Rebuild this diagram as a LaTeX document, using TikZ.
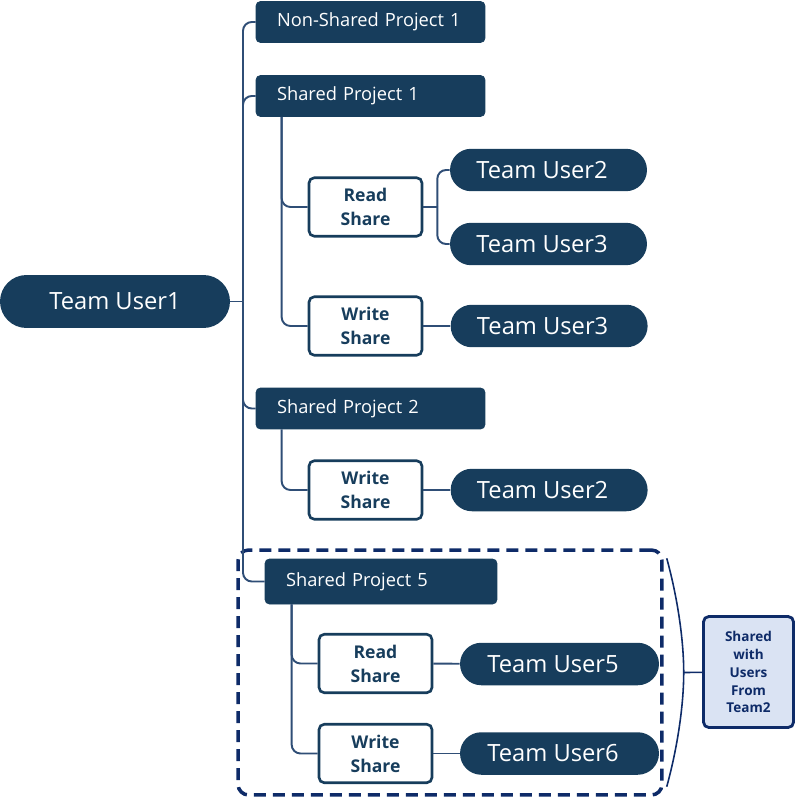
\documentclass[tikz,border=0pt]{standalone}
\usepackage{fontspec}
\setmainfont{Open Sans}
\usepackage{xcolor}
\usepackage{tikz}
\usetikzlibrary{positioning, shapes.misc, calc}
\definecolor{Navy}{HTML}{173D5C}
\definecolor{LinkBlue}{HTML}{2F4E76}
\definecolor{GroupBlue}{HTML}{0E2B68}
\definecolor{NoteFill}{HTML}{DAE3F3}

\begin{document}
\begin{tikzpicture}[x=0.02cm, y=-0.02cm, every node/.style={inner sep=0pt},
  project/.style={draw=Navy, fill=Navy, text=white, rounded corners=2.5pt,
    minimum height=#1, inner xsep=0.42cm, text width=3.74cm, align=left,
    font=\fontsize{10.4}{12}\selectfont},
  project/.default=0.82cm,
  share/.style={draw=Navy, fill=white, text=Navy, line width=1.5pt,
    rounded corners=3pt, minimum width=2.26cm, minimum height=1.17cm,
    align=center, font=\bfseries\fontsize{10}{13.6}\selectfont},
  user/.style={rounded rectangle, fill=Navy, text=white, minimum width=3.94cm,
    minimum height=#1, font=\fontsize{13.5}{16}\selectfont},
  user/.default=0.85cm,
  leaf/.style={user, execute at end node={\hspace{0.26cm}}},
  group/.style={draw=GroupBlue, line width=2pt, dash pattern=on 0.24cm off 0.14cm,
    rounded corners=6pt, minimum width=8.48cm, minimum height=4.9cm},
  note/.style={draw=GroupBlue, fill=NoteFill, text=GroupBlue, line width=1.6pt,
    rounded corners=3pt, minimum width=1.8cm, minimum height=2.22cm, align=center,
    font=\bfseries\fontsize{7.7}{10.2}\selectfont},
  link/.style={LinkBlue, line width=1.1pt, rounded corners=5pt},
  brace/.style={GroupBlue, line width=0.9pt}
]
  \useasboundingbox (0,0) rectangle (796,800);

  % Root and projects
  \node[user=1.06cm, minimum width=4.6cm] (tu1) at (115,301.5) {Team User1};
  \node[project] (np1) at (370.5,22) {Non-Shared Project 1};
  \node[project] (sp1) at (370.5,96) {Shared Project 1};
  \node[project] (sp2) at (370.5,408.5) {Shared Project 2};
  \node[project=0.9cm, text width=3.8cm] (sp5) at (381,581.5) {Shared Project 5};

  % Shared Project 1
  \node[share] (rs1) at (365.5,207) {Read\\Share};
  \node[share] (ws1) at (365.5,326) {Write\\Share};
  \node[leaf] (tu2a) at (548.5,170) {Team User2};
  \node[leaf] (tu3a) at (548.5,244) {Team User3};
  \node[leaf, right=0.54cm of ws1] (tu3b) {Team User3};

  % Shared Project 2
  \node[share] (ws2) at (365.5,490) {Write\\Share};
  \node[leaf, right=0.54cm of ws2] (tu2b) {Team User2};

  % Shared Project 5 (team2 group)
  \node[share] (rs5) at (375.5,663.5) {Read\\Share};
  \node[share] (ws5) at (375.5,753.5) {Write\\Share};
  \node[leaf, minimum width=3.98cm] (tu5) at (559.5,664) {Team User5};
  \node[leaf, minimum width=3.98cm] (tu6) at (559.5,753.5) {Team User6};
  \node[group] (grp) at (450,672.5) {};
  \node[note] (team2) at (748.5,672) {Shared\\with\\Users\\From\\Team2};

  % Trunk
  \coordinate (trunk) at (243,301.5);
  \draw[link] (tu1.east) -- (trunk);
  \foreach \p in {np1, sp1, sp2, sp5} {
    \draw[link] (trunk) |- (\p.west);
  }

  % Share branches
  \foreach \s in {rs1, ws1} {
    \draw[link] ([xshift=0.52cm]sp1.south west) |- (\s.west);
  }
  \draw[link] ([xshift=0.52cm]sp2.south west) |- (ws2.west);
  \foreach \s in {rs5, ws5} {
    \draw[link] ([xshift=0.54cm]sp5.south west) |- (\s.west);
  }

  % Users
  \draw[link] (rs1.east) -- ++(14,0) coordinate (rs1f);
  \foreach \u in {tu2a, tu3a} {
    \draw[link] (rs1f) |- (\u.west);
  }
  \draw[link] (ws1) -- (tu3b);
  \draw[link] (ws2) -- (tu2b);
  \draw[link] (rs5) -- (tu5);
  \draw[link] (ws5) -- (tu6);

  % Brace to note
  \coordinate (tip) at ([xshift=0.4cm]grp.east);
  \draw[brace] ([shift={(3,10)}]grp.north east) .. controls +(11,40) and +(0,-32) .. (tip)
    .. controls +(0,32) and +(11,-40) .. ([shift={(3,-10)}]grp.south east);
  \draw[brace] (tip) -- (team2);
\end{tikzpicture}
\end{document}
